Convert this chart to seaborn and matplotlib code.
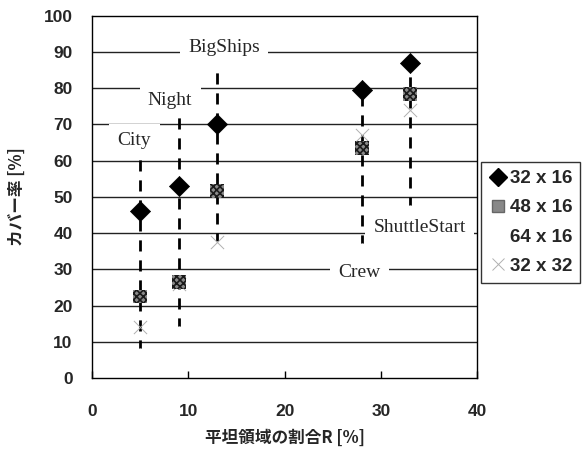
import matplotlib
matplotlib.use("Agg")
import matplotlib.pyplot as plt
import numpy as np
import pandas as pd
import seaborn as sns
from matplotlib.lines import Line2D

# data
videos = ["City", "Night", "BigShips", "Crew", "ShuttleStart"]
flat_ratio = [5, 9, 13, 28, 33]
cover_32x16 = [46, 53, 70, 79.5, 87]
cover_48x16 = [22.5, 26.5, 51.5, 63.5, 78.5]
cover_64x16 = [7.5, 13.5, 37, 36.5, 47]
cover_32x32 = [14, 26, 37.5, 67, 74]
label_x = [4.4, 8.1, 13.7, 27.8, 34.0]
label_y = [65.5, 76.5, 91.2, 29.2, 41.6]
series_names = ["32 x 16", "48 x 16", "64 x 16", "32 x 32"]

df = pd.DataFrame({
    "R": flat_ratio * 4,
    "cover": cover_32x16 + cover_48x16 + cover_64x16 + cover_32x32,
    "size": sum([[s] * len(flat_ratio) for s in series_names], []),
})

sns.set_style("white", {"xtick.bottom": True})
plt.rcParams["font.family"] = ["Liberation Sans", "DejaVu Sans"]
plt.rcParams["hatch.linewidth"] = 1.2

fig = plt.figure(figsize=(5.87, 4.51), dpi=100)
ax = fig.add_axes([0.157, 0.162, 0.656, 0.803])

# horizontal grid
for g in range(10, 100, 10):
    ax.axhline(g, color="#222222", lw=1.0, zorder=1)

# label connectors: from label (or top point) down to lowest point
allv = np.array([cover_32x16, cover_48x16, cover_64x16, cover_32x32])
for i, v in enumerate(videos):
    lo = allv[:, i].min()
    hi = allv[:, i].max()
    top = label_y[i] - 3.5 if label_y[i] > hi else hi - 1.5
    ax.plot([flat_ratio[i], flat_ratio[i]], [lo, top], color="black",
            lw=2.0, dashes=(4, 3.2), zorder=2)

styles = {
    "32 x 16": dict(marker="D", s=105, color="black", edgecolor="black", linewidth=0.5),
    "48 x 16": dict(marker="s", s=100, color="#8a8a8a", edgecolor="#1a1a1a",
                    hatch="xxxxx", linewidth=0),
    "64 x 16": dict(marker="o", s=20, color="white", edgecolor="white", linewidth=0),
    "32 x 32": dict(marker="x", s=90, color="#b0b0b0", linewidth=0.7),
}
order = ["64 x 16", "32 x 32", "48 x 16", "32 x 16"]
for name in order:
    sub = df[df["size"] == name]
    sns.scatterplot(data=sub, x="R", y="cover", ax=ax, zorder=3,
                    legend=False, **styles[name])

for i, v in enumerate(videos):
    ax.text(label_x[i], label_y[i], v, ha="center", va="center",
            family="Liberation Serif", fontsize=14, zorder=4,
            bbox=dict(fc="white", ec="none", pad=6))

ax.set_xlim(0, 40)
ax.set_ylim(0, 100)
ax.set_xticks(range(0, 41, 10))
ax.set_yticks(range(0, 101, 10))
ax.tick_params(axis="x", bottom=True, direction="in", length=5, width=1, pad=19,
               labelsize=12.5, color="black")
ax.tick_params(axis="y", length=0, pad=14, labelsize=12.5)
for lab in ax.get_xticklabels() + ax.get_yticklabels():
    lab.set_fontweight("bold")
for sp in ax.spines.values():
    sp.set_color("black")
    sp.set_linewidth(1.0)

cjk = ["Noto Sans CJK JP", "DejaVu Sans"]
ax.set_xlabel("平坦領域の割合R [%]", family=cjk, fontsize=12, fontweight="bold", labelpad=7)
ax.set_ylabel("カバー率 [%]", family=cjk, fontsize=12, fontweight="bold", labelpad=13)

handles = []
for name in series_names:
    if name == "48 x 16":
        h = Line2D([], [], marker="s", ls="none", markersize=9,
                   markerfacecolor="#888888", markeredgecolor="#666666")
    elif name == "64 x 16":
        h = Line2D([], [], marker="o", ls="none", markersize=5,
                   markerfacecolor="white", markeredgecolor="white")
    elif name == "32 x 32":
        h = Line2D([], [], marker="x", ls="none", markersize=9,
                   markeredgecolor="#b0b0b0", markeredgewidth=0.7)
    else:
        h = Line2D([], [], marker="D", ls="none", markersize=9,
                   markerfacecolor="black", markeredgecolor="black")
    handles.append(h)
leg = ax.legend(handles, series_names, loc="upper left",
                bbox_to_anchor=(1.01, 0.595), frameon=True, fancybox=False,
                borderpad=0.4, handletextpad=0.15, handlelength=1.0,
                labelspacing=0.65, borderaxespad=0,
                prop=dict(family="Liberation Sans", weight="bold", size=13.5))
leg.get_frame().set_edgecolor("black")
leg.get_frame().set_linewidth(1.0)

fig.savefig("out.png", dpi=100)
